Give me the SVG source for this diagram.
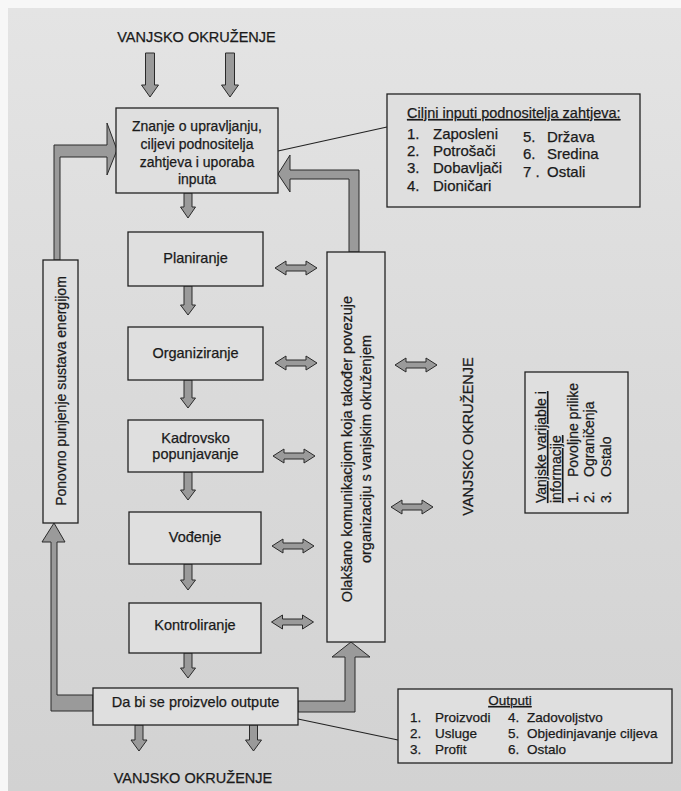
<svg xmlns="http://www.w3.org/2000/svg" width="681" height="791" viewBox="0 0 681 791">
<defs>
<linearGradient id="page" x1="0" y1="0" x2="0" y2="1">
<stop offset="0" stop-color="#e4e4e4"/>
<stop offset="0.5" stop-color="#dadada"/>
<stop offset="1" stop-color="#d2d2d2"/>
</linearGradient>
<path id="dbl" d="M-21,0 L-10,-7 L-10,-3 L10,-3 L10,-7 L21,0 L10,7 L10,3 L-10,3 L-10,7 Z"/>
</defs>
<style>
text{font-family:"Liberation Sans",Arial,sans-serif;fill:#1a1a1a;stroke:#1a1a1a;stroke-width:0.25;}
.box{fill:#dfdfdf;stroke:#222;stroke-width:1.3;}
.arr{fill:#9a9a9a;stroke:#2a2a2a;stroke-width:1;stroke-linejoin:miter;}
.ln{fill:none;stroke:#222;stroke-width:1.2;}
.t145{font-size:14.5px;}
.t14{font-size:14px;}
.t135{font-size:13.5px;}
.t15{font-size:15px;}
.c{text-anchor:middle;}
.u{text-decoration:underline;}
</style>
<rect x="0" y="0" width="681" height="791" fill="#f7f7f7"/>
<rect x="8" y="8" width="673" height="783" fill="url(#page)"/>

<g id="env-top"><text class="t145 c" x="196.5" y="42">VANJSKO OKRUŽENJE</text></g>
<g id="env-bottom"><text class="t145 c" x="193" y="783">VANJSKO OKRUŽENJE</text></g>
<g id="env-right"><text class="t145 c" transform="translate(473,436.5) rotate(-90)">VANJSKO OKRUŽENJE</text></g>

<g id="connectors">
<polygon class="arr" points="145.5,53 154.5,53 154.5,85 158.5,85 150,97 141.5,85 145.5,85"/>
<polygon class="arr" points="225.5,53 234.5,53 234.5,85 238.5,85 230,97 221.5,85 225.5,85"/>
<polygon class="arr" points="184,193 192,193 192,207 195.5,207 188,218 180.5,207 184,207"/>
<polygon class="arr" points="184,286 192,286 192,305 195.5,305 188,315 180.5,305 184,305"/>
<polygon class="arr" points="184,380 192,380 192,398 195.5,398 188,408 180.5,398 184,398"/>
<polygon class="arr" points="184,472 192,472 192,490 195.5,490 188,500 180.5,490 184,490"/>
<polygon class="arr" points="184,564 192,564 192,580 195.5,580 188,590 180.5,580 184,580"/>
<polygon class="arr" points="184,653 192,653 192,668 195.5,668 188,678 180.5,668 184,668"/>
<polygon class="arr" points="135,725 143,725 143,740 147,740 139,751 131,740 135,740"/>
<polygon class="arr" points="249.5,725 257.5,725 257.5,740 261.5,740 253.5,751 245.5,740 249.5,740"/>
<polygon class="arr" points="54,260 54,145 107,145 107,123 117,150 107,175 107,157 60,157 60,260"/>
<polygon class="arr" points="93,695 57,695 57,542 65,542 54,523 42,542 51,542 51,711 93,711"/>
<polygon class="arr" points="298,701 345,701 345,657 332,657 351,642 370,657 355,657 355,712 298,712"/>
<polygon class="arr" points="349,252 349,179 290,179 290,192 278,174 290,155 290,170 359,170 359,252"/>
<use href="#dbl" class="arr" x="296" y="268"/>
<use href="#dbl" class="arr" x="296" y="363"/>
<use href="#dbl" class="arr" x="294" y="456"/>
<use href="#dbl" class="arr" x="293" y="546"/>
<use href="#dbl" class="arr" x="292.5" y="622"/>
<use href="#dbl" class="arr" x="416" y="365"/>
<use href="#dbl" class="arr" x="412" y="507"/>
<line class="ln" x1="278" y1="151" x2="387" y2="127"/>
<line class="ln" x1="298" y1="719" x2="398" y2="740"/>
</g>

<g id="inputs-box">
<rect class="box" x="116" y="108" width="162" height="85"/>
<text class="t14 c" x="197" y="131">Znanje o upravljanju,</text>
<text class="t14 c" x="197" y="149">ciljevi podnositelja</text>
<text class="t14 c" x="197" y="166.5">zahtjeva i uporaba</text>
<text class="t14 c" x="197" y="184">inputa</text>
</g>

<g id="planiranje"><rect class="box" x="128" y="232" width="135" height="54"/><text class="t145 c" x="195.5" y="263">Planiranje</text></g>
<g id="organiziranje"><rect class="box" x="128" y="327" width="135" height="53"/><text class="t145 c" x="195.5" y="358">Organiziranje</text></g>
<g id="kadrovsko"><rect class="box" x="128" y="420" width="135" height="52"/><text class="t145 c" x="195.5" y="443">Kadrovsko</text><text class="t145 c" x="195.5" y="459">popunjavanje</text></g>
<g id="vodjenje"><rect class="box" x="129" y="512" width="132" height="52"/><text class="t145 c" x="195" y="542">Vođenje</text></g>
<g id="kontroliranje"><rect class="box" x="129" y="603" width="132" height="50"/><text class="t145 c" x="195" y="630">Kontroliranje</text></g>
<g id="outputs-node"><rect class="box" x="93" y="688" width="205" height="37"/><text class="t145 c" x="195.5" y="707">Da bi se proizvelo outpute</text></g>

<g id="feedback-box">
<rect class="box" x="43" y="260" width="35" height="263"/>
<text class="t14 c" transform="translate(66,391) rotate(-90)">Ponovno punjenje sustava energijom</text>
</g>

<g id="communication-box">
<rect class="box" x="327" y="252" width="58" height="390"/>
<text class="t145 c" transform="translate(352,449) rotate(-90)">Olakšano komunikacijom koja također povezuje</text>
<text class="t145 c" transform="translate(371,449) rotate(-90)">organizaciju s vanjskim okruženjem</text>
</g>

<g id="ciljni-inputi">
<rect class="box" x="387" y="94" width="253" height="113"/>
<text class="t145 u" x="407" y="118">Ciljni inputi podnositelja zahtjeva:</text>
<text class="t15" y="139"><tspan x="407">1.</tspan><tspan x="433">Zaposleni</tspan></text>
<text class="t15" y="156"><tspan x="407">2.</tspan><tspan x="433">Potrošači</tspan></text>
<text class="t15" y="173"><tspan x="407">3.</tspan><tspan x="433">Dobavljači</tspan></text>
<text class="t15" y="191"><tspan x="407">4.</tspan><tspan x="433">Dioničari</tspan></text>
<text class="t15" y="142"><tspan x="523">5.</tspan><tspan x="547">Država</tspan></text>
<text class="t15" y="159"><tspan x="523">6.</tspan><tspan x="547">Sredina</tspan></text>
<text class="t15" y="177"><tspan x="523">7 .</tspan><tspan x="547">Ostali</tspan></text>
</g>

<g id="vanjske-varijable">
<rect class="box" x="525" y="372" width="103" height="141"/>
<text class="t14 u" transform="translate(546,503) rotate(-90)">Vanjske varijable i</text>
<text class="t14 u" transform="translate(561,503) rotate(-90)">informacije</text>
<text class="t14" transform="translate(578,503) rotate(-90)"><tspan x="0">1.</tspan><tspan x="26">Povoljne prilike</tspan></text>
<text class="t14" transform="translate(594,503) rotate(-90)"><tspan x="0">2.</tspan><tspan x="26">Ograničenja</tspan></text>
<text class="t14" transform="translate(611,503) rotate(-90)"><tspan x="0">3.</tspan><tspan x="26">Ostalo</tspan></text>
</g>

<g id="outputi">
<rect class="box" x="398" y="689" width="274" height="74"/>
<text class="t135 c u" x="510" y="705">Outputi</text>
<text class="t135" y="722"><tspan x="410">1.</tspan><tspan x="435">Proizvodi</tspan></text>
<text class="t135" y="738"><tspan x="410">2.</tspan><tspan x="435">Usluge</tspan></text>
<text class="t135" y="754"><tspan x="410">3.</tspan><tspan x="435">Profit</tspan></text>
<text class="t135" y="722"><tspan x="508">4.</tspan><tspan x="527">Zadovoljstvo</tspan></text>
<text class="t135" y="738"><tspan x="508">5.</tspan><tspan x="527">Objedinjavanje ciljeva</tspan></text>
<text class="t135" y="754"><tspan x="508">6.</tspan><tspan x="527">Ostalo</tspan></text>
</g>
</svg>
